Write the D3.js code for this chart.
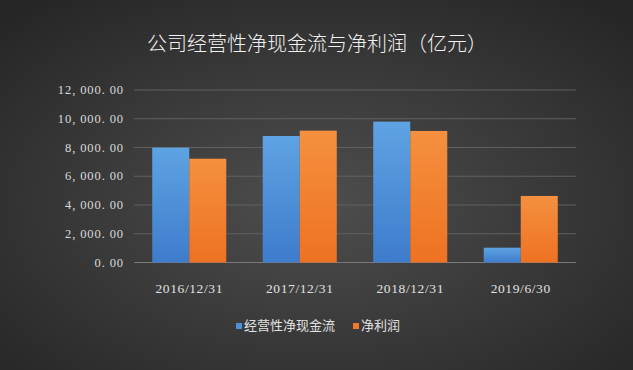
<!DOCTYPE html>
<html>
<head>
<meta charset="utf-8">
<script src="https://cdn.jsdelivr.net/npm/d3@7"></script>
<style>
  html, body { margin: 0; padding: 0; background: #333; }
  svg { display: block; }
</style>
</head>
<body>
<div id="chart"></div>
<script>
// chart data (亿元)
const categories = ['2016/12/31', '2017/12/31', '2018/12/31', '2019/6/30'];
const seriesNames = ['经营性净现金流', '净利润'];
const cashFlow = [7990, 8800, 9800, 1030];
const netProfit = [7220, 9170, 9150, 4630];
const yTicks = [0, 2000, 4000, 6000, 8000, 10000, 12000];

const width = 633, height = 370;
const colors = ['blue', 'orange'];

const svg = d3.select('#chart')
    .append('svg')
    .attr('width', width)
    .attr('height', height);

// background + bar gradients
const defs = svg.append('defs');
const bg = defs.append('radialGradient')
    .attr('id', 'bg')
    .attr('cx', '50%').attr('cy', '55%').attr('r', '70%');
bg.append('stop').attr('offset', '0%').attr('stop-color', '#4e4e4e');
bg.append('stop').attr('offset', '100%').attr('stop-color', '#262626');

const blueGrad = defs.append('linearGradient')
    .attr('id', 'blue').attr('x1', 0).attr('y1', 0).attr('x2', 0).attr('y2', 1);
blueGrad.append('stop').attr('offset', '0%').attr('stop-color', '#5ea3e3');
blueGrad.append('stop').attr('offset', '100%').attr('stop-color', '#3e7ccc');

const orangeGrad = defs.append('linearGradient')
    .attr('id', 'orange').attr('x1', 0).attr('y1', 0).attr('x2', 0).attr('y2', 1);
orangeGrad.append('stop').attr('offset', '0%').attr('stop-color', '#f4903f');
orangeGrad.append('stop').attr('offset', '100%').attr('stop-color', '#ee7222');

svg.append('rect')
    .attr('width', width)
    .attr('height', height)
    .attr('fill', 'url(#bg)');

// title
svg.append('text')
    .attr('x', 317)
    .attr('y', 51)
    .attr('text-anchor', 'middle')
    .attr('fill', '#f2f2f2')
    .style('font-family', '"Noto Sans CJK SC", sans-serif')
    .style('font-weight', 300)
    .style('font-size', '20px')
    .text('公司经营性净现金流与净利润（亿元）');

// scales
const x0 = d3.scaleBand()
    .domain(categories)
    .range([134, 576]);

const y = d3.scaleLinear()
    .domain([0, 12000])
    .range([262.5, 90]);

const groupW = x0.bandwidth() * 0.67;
const x1 = d3.scaleBand()
    .domain(seriesNames)
    .range([0, groupW]);

// gridlines
svg.append('g')
    .selectAll('line')
    .data(yTicks)
    .enter()
    .append('line')
    .attr('x1', 134)
    .attr('x2', 576)
    .attr('y1', d => y(d))
    .attr('y2', d => y(d))
    .attr('stroke', d => d === 0 ? '#7a7a7a' : '#606060')
    .attr('stroke-width', 1);

// y axis labels
const fmt = d3.format(',.2f');
svg.append('g')
    .selectAll('text')
    .data(yTicks)
    .enter()
    .append('text')
    .attr('x', 124)
    .attr('y', d => y(d) + 4)
    .attr('text-anchor', 'end')
    .attr('fill', '#d9d9d9')
    .style('font-family', '"Liberation Serif", serif')
    .style('font-size', '12.5px')
    .style('letter-spacing', '0.9px')
    .text(d => fmt(d).replace(/,/g, ', ').replace('.', '. '));

// bars
const rows = categories.map((c, i) => ({ cat: c, values: [cashFlow[i], netProfit[i]] }));

const group = svg.append('g')
    .selectAll('g')
    .data(rows)
    .enter()
    .append('g')
    .attr('transform', d => `translate(${x0(d.cat) + (x0.bandwidth() - groupW) / 2},0)`);

group.selectAll('rect')
    .data(d => d.values.map((v, i) => ({ name: seriesNames[i], value: v, i: i })))
    .enter()
    .append('rect')
    .attr('x', d => x1(d.name))
    .attr('width', x1.bandwidth())
    .attr('y', d => y(d.value))
    .attr('height', d => y(0) - y(d.value))
    .attr('fill', d => `url(#${colors[d.i]})`);

// x axis labels
svg.append('g')
    .selectAll('text')
    .data(categories)
    .enter()
    .append('text')
    .attr('x', d => x0(d) + x0.bandwidth() / 2)
    .attr('y', 293)
    .attr('text-anchor', 'middle')
    .attr('fill', '#e0e0e0')
    .style('font-family', '"Liberation Serif", serif')
    .style('font-size', '13.5px')
    .style('letter-spacing', '0.6px')
    .text(d => d);

// legend
const legend = svg.append('g')
    .attr('transform', 'translate(236,330)');

const legendItems = legend.selectAll('g')
    .data(seriesNames)
    .enter()
    .append('g')
    .attr('transform', (d, i) => `translate(${i === 0 ? 0 : 117},0)`);

legendItems.append('rect')
    .attr('x', 0)
    .attr('y', -7)
    .attr('width', 6)
    .attr('height', 6)
    .attr('fill', (d, i) => i === 0 ? '#4f8fd8' : '#ef7a2a');

legendItems.append('text')
    .attr('x', 8)
    .attr('y', 0)
    .attr('fill', '#e0e0e0')
    .style('font-family', '"Noto Sans CJK SC", sans-serif')
    .style('font-size', '13px')
    .text(d => d);
</script>
</body>
</html>
